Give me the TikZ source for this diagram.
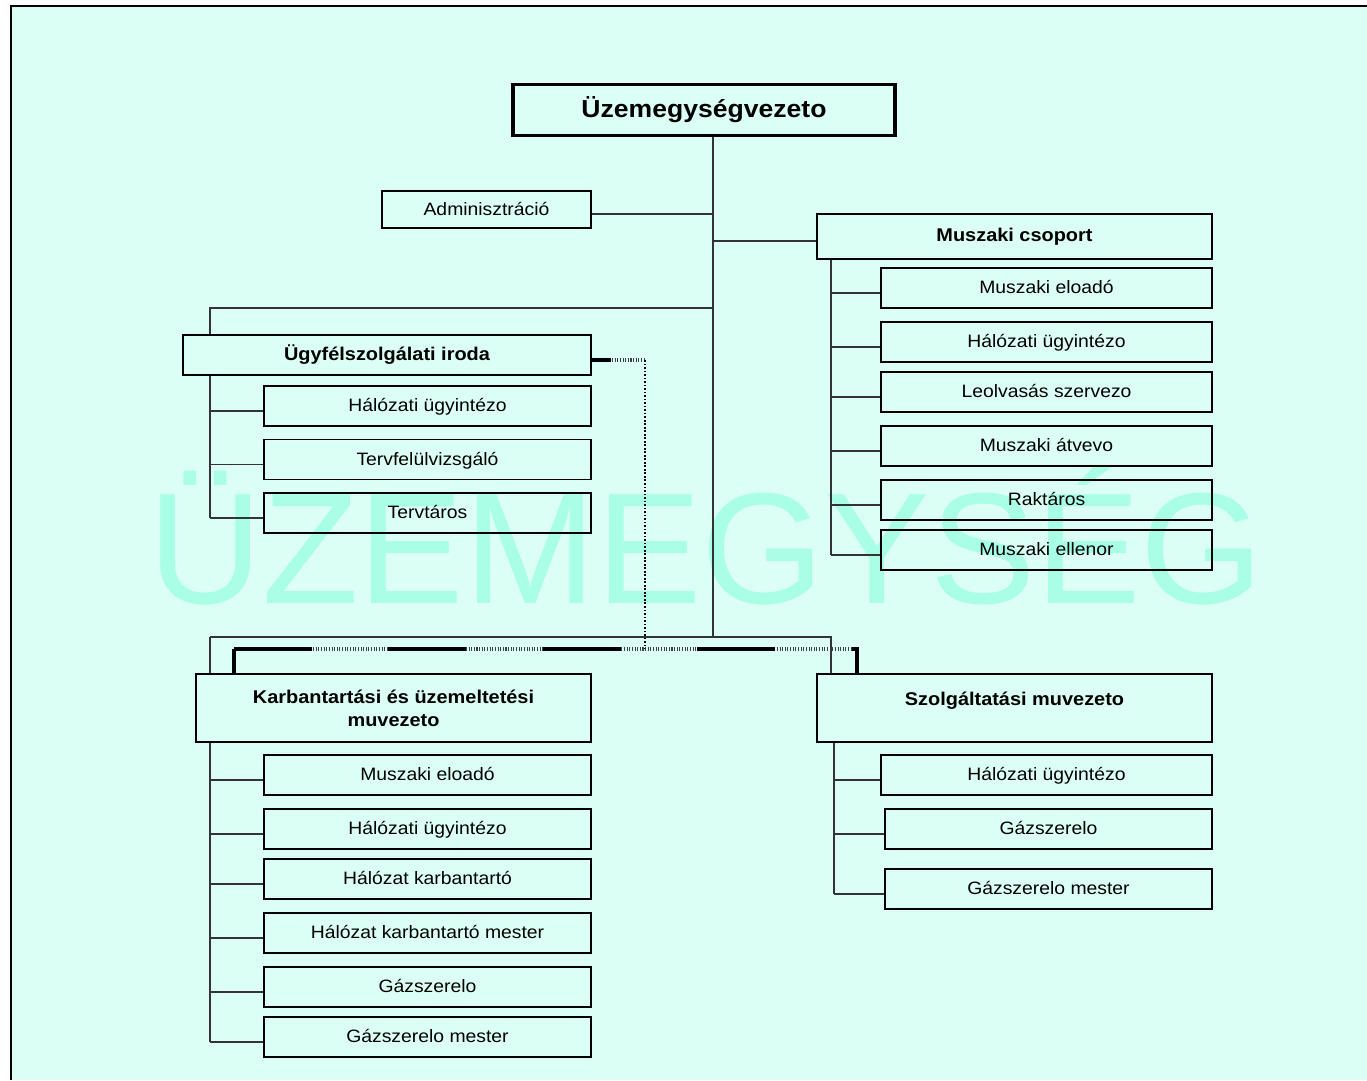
\documentclass[tikz,border=0pt]{standalone}
\usepackage{fontspec}
\setmainfont{Liberation Sans}[FakeStretch=1.08]
\newfontfamily\vizfont{Liberation Sans}
\definecolor{halvany}{HTML}{DBFFF4}
\definecolor{vizjel}{HTML}{A8FFE6}
\pgfdeclarelayer{alul}
\pgfsetlayers{alul,main}
\begin{document}
\begin{tikzpicture}[x=0.02cm, y=-0.02cm,
  fo/.style={draw, line width=1.6pt, fill=halvany, inner sep=0pt, outer sep=0pt, minimum width=7.9cm, font=\bfseries\fontsize{10.5}{13}\selectfont},
  al/.style={draw, line width=0.7pt, inner sep=0pt, outer sep=0pt, minimum width=6.54cm, minimum height=0.8cm, text height=7.6pt, text depth=1.2pt, font=\fontsize{10.2}{12}\selectfont},
  vonal/.style={line width=0.6pt, draw=black!80},
  pont/.style={line width=1.8pt, draw=black!75, dash pattern=on 0.6pt off 0.9pt}]
\useasboundingbox (0,0) rectangle (1367,1080);
% fejek
\node[fo, line width=1.8pt, minimum width=7.64cm, minimum height=1.02cm, font=\bfseries\fontsize{14}{16}\selectfont] (vez) at (704,110) {Üzemegységvezeto};
\node[al, minimum width=4.18cm, minimum height=0.74cm] (adm) at (486.5,209.5) {Adminisztráció};
\node[fo, minimum height=0.9cm] (musz) at (1014.5,236.5) {Muszaki csoport};
\node[fo, minimum width=8.16cm, minimum height=0.8cm] (ugyf) at (387,355) {Ügyfélszolgálati iroda};
\node[fo, minimum height=1.36cm, align=center] (karb) at (393.5,708) {Karbantartási és üzemeltetési\\muvezeto};
\node[fo, minimum height=1.36cm, text height=8pt, text depth=10.3pt] (szolg) at (1014.5,708) {Szolgáltatási muvezeto};
% beosztottak
\foreach \i/\y/\t in {1/288/Muszaki eloadó, 2/342/Hálózati ügyintézo, 3/392/Leolvasás szervezo,
    4/446/Muszaki átvevo, 5/500/Raktáros, 6/550/Muszaki ellenor}
  {\node[al, minimum width=6.62cm] (m\i) at (1046.5,\y) {\t};
  \coordinate (mc\i) at ([yshift=-0.1cm]m\i.west);}
\foreach \i/\y/\t in {1/406/Hálózati ügyintézo, 2/459.5/Tervfelülvizsgáló, 3/513/Tervtáros}
  {\node[al] (u\i) at (427.5,\y) {\t};
  \coordinate (uc\i) at ([yshift=-0.1cm]u\i.west);}
\foreach \i/\y/\t in {1/775/Muszaki eloadó, 2/829/Hálózati ügyintézo, 3/879/Hálózat karbantartó,
    4/933/Hálózat karbantartó mester, 5/987/Gázszerelo, 6/1037/Gázszerelo mester}
  {\node[al] (k\i) at (427.5,\y) {\t};
  \coordinate (kc\i) at ([yshift=-0.1cm]k\i.west);}
\foreach \i/\x/\y/\w/\t in {1/1046.5/775/6.62/Hálózati ügyintézo, 2/1048.5/829/6.54/Gázszerelo,
    3/1048.5/889/6.54/Gázszerelo mester}
  {\node[al, minimum width=\w cm] (s\i) at (\x,\y) {\t};
  \coordinate (sc\i) at ([yshift=-0.1cm]s\i.west);}
% keret
\draw[line width=1.5pt] (11,1080) -- (11,6) -- (1367,6);
\begin{pgfonlayer}{alul}
\fill[halvany] (11,6) rectangle (1367,1080);
\node[font=\vizfont\fontsize{90}{90}\selectfont, text=vizjel, anchor=base, inner sep=0pt] (jel) at (706,603) {ÜZEMEGYSÉG};
\coordinate (tr) at (713,637);
\coordinate (ul) at (210,308);
\coordinate (mv) at (831,259);
\coordinate (kr) at (831,637);
\coordinate (sv) at (834,742);
\coordinate (ud) at (645,649);
\coordinate (ka) at (234,649);
\coordinate (sa) at (857,649);
\draw[vonal] (vez.south -| tr) -- (tr);
\draw[vonal] ([yshift=-0.09cm]adm.east) -- ([yshift=-0.09cm]adm.east -| tr);
\draw[vonal] ([yshift=-0.09cm]musz.west) -- ([yshift=-0.09cm]musz.west -| tr);
\draw[vonal] (ul -| tr) -- (ul) -- (ul |- uc3);
\draw[vonal] (ul |- tr) -- (kr) -- (kr |- szolg.north);
\draw[vonal] (ul |- tr) -- (ul |- kc6);
\draw[vonal] (mv) -- (mv |- mc6);
\draw[vonal] (sv) -- (sv |- sc3);
\foreach \i in {1,...,6}
  {\draw[vonal] (mc\i) -- (mc\i -| mv);
  \draw[vonal] (kc\i) -- (kc\i -| ul);}
\foreach \i in {1,2,3}
  {\draw[vonal] (uc\i) -- (uc\i -| ul);
  \draw[vonal] (sc\i) -- (sc\i -| sv);}
% pontozott
\draw[pont] ([yshift=-0.1cm]ugyf.east) -- ([yshift=-0.1cm]ugyf.east -| ud);
\draw[line width=1.8pt] ([yshift=-0.1cm]ugyf.east) -- ++(20,0);
\draw[line width=0.6pt, dash pattern=on 1pt off 1pt] ([yshift=-0.1cm]ugyf.east -| ud) -- (ud);
\draw[pont] (ka) -- (sa);
\draw[line width=2pt] (ka |- karb.north) -- (ka);
\draw[line width=2pt, dash pattern=on 44.2pt off 43.7pt] (ka) -- (sa) -- (sa |- szolg.north);
\end{pgfonlayer}
\end{tikzpicture}
\end{document}
